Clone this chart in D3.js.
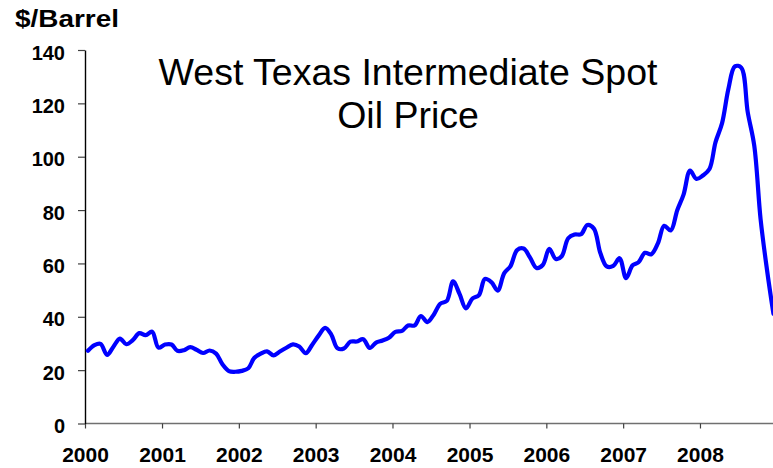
<!DOCTYPE html>
<html>
<head>
<meta charset="utf-8">
<script src="https://cdn.jsdelivr.net/npm/d3@7"></script>
<style>
  html, body { margin: 0; padding: 0; background: #fff; }
  svg { display: block; }
  text { font-family: "Liberation Sans", Arial, Helvetica, sans-serif; fill: #000; }
</style>
</head>
<body>
<svg id="chart" width="773" height="468"></svg>
<script>
// Monthly average WTI spot price, $/barrel (Jan..Dec for each year)
const years = [2000, 2001, 2002, 2003, 2004, 2005, 2006, 2007, 2008];
const price2000 = [27.26, 29.37, 29.84, 25.72, 28.79, 31.82, 29.70, 31.26, 33.88, 33.11, 34.42, 28.44];
const price2001 = [29.59, 29.61, 27.25, 27.49, 28.63, 27.60, 26.43, 27.37, 26.20, 22.17, 19.64, 19.39];
const price2002 = [19.72, 20.72, 24.53, 26.18, 27.04, 25.52, 26.97, 28.39, 29.66, 28.84, 26.35, 29.46];
const price2003 = [32.95, 35.83, 33.51, 28.17, 28.11, 30.66, 30.75, 31.57, 28.31, 30.34, 31.11, 32.13];
const price2004 = [34.31, 34.69, 36.74, 36.75, 40.28, 38.03, 40.78, 44.90, 45.94, 53.28, 48.47, 43.15];
const price2005 = [46.84, 48.15, 54.19, 52.98, 49.83, 56.35, 59.00, 64.99, 65.59, 62.26, 58.32, 59.41];
const price2006 = [65.49, 61.63, 62.69, 69.44, 70.84, 70.95, 74.41, 73.04, 63.80, 58.89, 59.08, 61.96];
const price2007 = [54.51, 59.28, 60.44, 63.98, 63.46, 67.49, 74.12, 72.36, 79.92, 85.80, 94.77, 91.69];
const price2008 = [92.97, 95.39, 105.45, 112.58, 125.40, 133.88, 133.37, 116.67, 104.11, 76.61, 57.31, 41.12];
const yTicks = [0, 20, 40, 60, 80, 100, 120, 140];
const yUnitLabel = "$/Barrel";
const titleLines = ["West Texas Intermediate Spot", "Oil Price"];

const priceByYear = [price2000, price2001, price2002, price2003, price2004,
                     price2005, price2006, price2007, price2008];
// one point per month, placed mid-month
const series = [];
years.forEach((yr, i) => {
  priceByYear[i].forEach((v, m) => series.push({ date: new Date(yr, m, 15), value: v }));
});

const svg = d3.select("#chart");

const x = d3.scaleTime()
  .domain([new Date(2000, 0, 1), new Date(2009, 0, 1)])
  .range([85, 777]);
const y = d3.scaleLinear()
  .domain([0, 140])
  .range([423.5, 50]);

// x axis (grey line, year ticks pointing down)
const xAxis = d3.axisBottom(x)
  .tickValues(years.map(yr => new Date(yr, 0, 1)))
  .tickFormat(d3.timeFormat("%Y"))
  .tickSize(5)
  .tickSizeOuter(0)
  .tickPadding(19);
const gx = svg.append("g")
  .attr("transform", `translate(0,${y(0)})`)
  .call(xAxis);
gx.select(".domain").attr("stroke", "#707070").attr("stroke-width", 1.6)
  .attr("d", `M${x(new Date(2000,0,1))},0H773`);
gx.selectAll(".tick line").attr("stroke", "#404040").attr("stroke-width", 1.2);
gx.selectAll(".tick text")
  .attr("fill", "#000")
  .style("font-size", "21px")
  .style("font-weight", "bold");

// y axis (black line, ticks pointing left)
const yAxis = d3.axisLeft(y)
  .tickValues(yTicks)
  .tickSize(7)
  .tickSizeOuter(0)
  .tickPadding(13);
const gy = svg.append("g")
  .attr("transform", `translate(${x(new Date(2000,0,1))},0)`)
  .call(yAxis);
gy.select(".domain").attr("stroke", "#000").attr("stroke-width", 1.4);
gy.selectAll(".tick line").attr("stroke", "#404040").attr("stroke-width", 1.2);
gy.selectAll(".tick text")
  .attr("fill", "#000")
  .attr("dy", "0.45em")
  .style("font-size", "20px")
  .style("font-weight", "bold");

// unit label (slightly wide lettering)
svg.append("text")
  .attr("x", 15)
  .attr("y", 26.5)
  .attr("textLength", 104)
  .attr("lengthAdjust", "spacingAndGlyphs")
  .style("font-size", "24px")
  .style("font-weight", "bold")
  .text(yUnitLabel);

// title
svg.append("text")
  .attr("text-anchor", "middle")
  .style("font-size", "37.5px")
  .selectAll("tspan")
  .data(titleLines)
  .join("tspan")
  .attr("x", 408)
  .attr("y", (d, i) => 85 + i * 43)
  .text(d => d);

// price line
const line = d3.line()
  .x(d => x(d.date))
  .y(d => y(d.value))
  .curve(d3.curveCatmullRom.alpha(0.5));

svg.append("path")
  .datum(series)
  .attr("fill", "none")
  .attr("stroke", "#0000ff")
  .attr("stroke-width", 4.2)
  .attr("stroke-linejoin", "round")
  .attr("stroke-linecap", "round")
  .attr("d", line);
</script>
</body>
</html>
